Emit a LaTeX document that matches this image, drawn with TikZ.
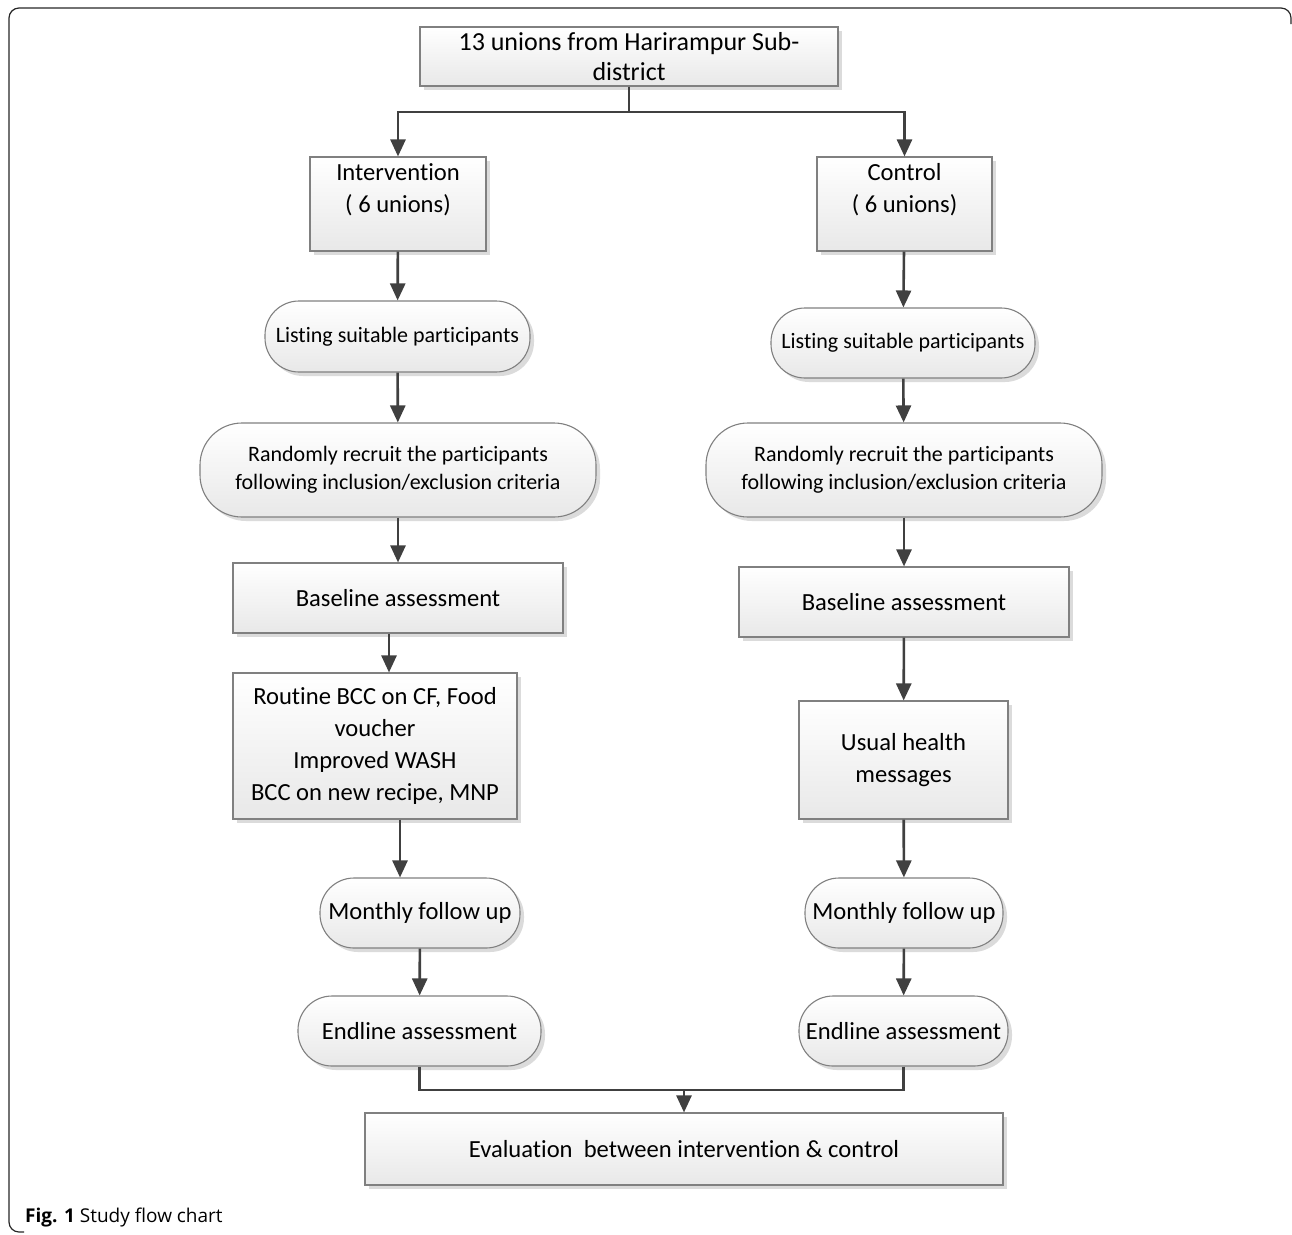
\documentclass[tikz,border=0pt]{standalone}
\usepackage{fontspec}
\setmainfont{Carlito}[Ligatures=CommonOff]
\newfontfamily\capfont{Open Sans}
\usetikzlibrary{arrows.meta,shadows}

\begin{document}
\begin{tikzpicture}[x=1pt,y=-1pt,
	>={Triangle[length=17pt,width=15pt]},
	line/.style={draw=black!75, line width=2.6pt},
	box/.style={draw=black!50, line width=1.1pt, top color=white, bottom color=black!9,
		drop shadow={shadow xshift=4pt, shadow yshift=-4pt, fill=black!14, opacity=1},
		align=center, inner sep=0pt, font=\fontsize{24.6}{32}\selectfont},
	pill/.style={box, rounded corners=34pt},
	small/.style={font=\fontsize{22}{28}\selectfont}]
	\useasboundingbox (0,0) rectangle (1292,1234);
	% outer frame
	\draw[black!85, line width=1.2pt, rounded corners=10pt] (24,1232) -- (9,1232) -- (9,8) -- (1291,8) -- (1291,24);

	\node[box, minimum width=418, minimum height=59, font=\fontsize{26}{30}\selectfont] (top) at (629,56.5) {13 unions from Harirampur Sub-\\district};
	\node[box, minimum width=176, minimum height=94] (int) at (398,204) {Intervention\\( 6 unions)\\\mbox{}};
	\node[box, minimum width=175, minimum height=94] (ctl) at (904.5,204) {Control\\( 6 unions)\\\mbox{}};

	% intervention arm
	\node[pill, small, minimum width=265, minimum height=71] (listL) at (397.5,336.5) {Listing suitable participants};
	\node[pill, small, minimum width=396, minimum height=94, rounded corners=42pt] (randL) at (398,470) {Randomly recruit the participants\\following inclusion/exclusion criteria};
	\node[box, minimum width=330, minimum height=70] (baseL) at (398,598) {Baseline assessment};
	\node[box, minimum width=284, minimum height=146] (routine) at (375,746) {Routine BCC on CF, Food\\voucher\\Improved WASH\\BCC on new recipe, MNP};
	\node[pill, minimum width=200, minimum height=70] (monL) at (420,913) {Monthly follow up};
	\node[pill, minimum width=243, minimum height=70] (endL) at (419.5,1031) {Endline assessment};

	% control arm
	\node[pill, small, minimum width=264, minimum height=70] (listR) at (903,343) {Listing suitable participants};
	\node[pill, small, minimum width=396, minimum height=94, rounded corners=42pt] (randR) at (904,470) {Randomly recruit the participants\\following inclusion/exclusion criteria};
	\node[box, minimum width=330, minimum height=70] (baseR) at (904,602) {Baseline assessment};
	\node[box, minimum width=209, minimum height=118] (usual) at (903.5,760) {Usual health\\messages};
	\node[pill, minimum width=198, minimum height=70] (monR) at (904,913) {Monthly follow up};
	\node[pill, minimum width=209, minimum height=70] (endR) at (903.5,1031) {Endline assessment};

	\node[box, minimum width=638, minimum height=72] (eval) at (684,1149) {Evaluation\ \ between intervention \& control};

	\node[anchor=base west, inner sep=0pt, font=\capfont\fontsize{19}{22}\selectfont] (cap) at (25,1222) {\textbf{Fig. 1} Study flow chart};

	\coordinate (split) at (629,112);
	\coordinate (join) at (684,1090);

	\draw[line] (top.south) -- (split);
	\draw[line,->] (split) -| (int.north);
	\draw[line,->] (split) -| (ctl.north);

	\draw[line,->] (int) -- (listL);
	\draw[line,->] (listL) -- (randL);
	\draw[line,->] (randL) -- (baseL);
	\draw[line,->] ([xshift=-9pt]baseL.south) -- ([xshift=14pt]routine.north);
	\draw[line,->] ([xshift=25pt]routine.south) -- ([xshift=-20pt]monL.north);
	\draw[line,->] (monL) -- (endL);

	\draw[line,->] (ctl) -- (listR);
	\draw[line,->] (listR) -- (randR);
	\draw[line,->] (randR) -- (baseR);
	\draw[line,->] (baseR) -- (usual);
	\draw[line,->] (usual) -- (monR);
	\draw[line,->] (monR) -- (endR);

	\draw[line] (endL.south) |- (join);
	\draw[line] (endR.south) |- (join);
	\draw[line,->] (join) -- (eval.north);
\end{tikzpicture}
\end{document}
